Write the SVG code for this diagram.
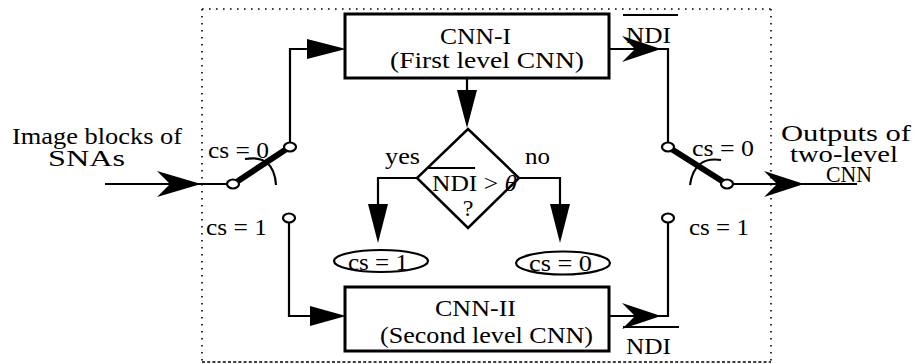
<svg xmlns="http://www.w3.org/2000/svg" width="916" height="364" viewBox="0 0 916 364">
  <style>
    text { font-family: "Liberation Serif", "Times New Roman", serif; font-size: 24px; fill: #000; }
    .ln { fill: none; stroke: #000; stroke-width: 2.2; }
    .box { fill: #fff; stroke: #000; stroke-width: 3; }
    .contact { fill: #fff; stroke: #000; stroke-width: 2.2; }
    .bar { stroke: #000; stroke-width: 6; stroke-linecap: round; }
    .head { fill: #000; stroke: none; }
    .dot { fill: none; stroke: #000; stroke-width: 1.6; stroke-dasharray: 1.6 5.4; }
    .dash { fill: none; stroke: #000; stroke-width: 1.6; stroke-dasharray: 3 2.2; }
    .over { stroke: #000; stroke-width: 2; }
  </style>

  <!-- dotted boundary of the two-level system -->
  <g id="boundary">
    <line class="dot" x1="202" y1="9" x2="771" y2="9"/>
    <line class="dot" x1="202" y1="9" x2="202" y2="362"/>
    <line class="dot" x1="771" y1="9" x2="771" y2="362"/>
    <line class="dash" x1="202" y1="362" x2="771" y2="362"/>
  </g>

  <!-- connectors -->
  <g id="connectors">
    <!-- input -->
    <line class="ln" x1="105" y1="184" x2="227" y2="184"/>
    <polygon class="head" points="201,184 157,171 170,184 157,197"/>
    <!-- to CNN-I -->
    <polyline class="ln" points="290,143 290,49 310,49"/>
    <polygon class="head" points="346,49 307,39 307,59"/>
    <!-- to CNN-II -->
    <polyline class="ln" points="289,222 289,316 310,316"/>
    <polygon class="head" points="346,316 310,306 310,326"/>
    <!-- CNN-I output -->
    <polyline class="ln" points="609,49 668,49 668,143"/>
    <polygon class="head" points="661,49 622,36 635,49 622,62"/>
    <!-- CNN-II output -->
    <polyline class="ln" points="609,316 668,316 668,222"/>
    <polygon class="head" points="661,316 622,303 635,316 622,329"/>
    <!-- CNN-I to decision -->
    <line class="ln" x1="467" y1="78" x2="467" y2="95"/>
    <polygon class="head" points="467,128 457,90 477,90"/>
    <!-- yes branch -->
    <polyline class="ln" points="417,178 378,178 378,208"/>
    <polygon class="head" points="378,243 368,204 388,204"/>
    <!-- no branch -->
    <polyline class="ln" points="519,178 560,178 560,208"/>
    <polygon class="head" points="560,243 550,204 570,204"/>
    <!-- output -->
    <line class="ln" x1="733" y1="184" x2="857" y2="184"/>
    <polygon class="head" points="804,184 764,171 777,184 764,197"/>
  </g>

  <!-- input switch -->
  <g id="switch-in">
    <line class="bar" x1="238" y1="181" x2="285" y2="150"/>
    <path class="ln" d="M245,159 Q274,154 276,185"/>
    <ellipse class="contact" cx="233" cy="184" rx="6" ry="4.5"/>
    <ellipse class="contact" cx="290" cy="147" rx="6" ry="4.5"/>
    <ellipse class="contact" cx="289" cy="218" rx="6" ry="4.5"/>
    <text x="208" y="158" textLength="61" lengthAdjust="spacingAndGlyphs">cs = 0</text>
    <text x="206" y="235" textLength="61" lengthAdjust="spacingAndGlyphs">cs = 1</text>
  </g>

  <!-- output switch -->
  <g id="switch-out">
    <line class="bar" x1="673" y1="150" x2="722" y2="181"/>
    <path class="ln" d="M721,160 Q694,156 690,185"/>
    <ellipse class="contact" cx="668" cy="147" rx="6" ry="4.5"/>
    <ellipse class="contact" cx="727" cy="184" rx="6" ry="4.5"/>
    <ellipse class="contact" cx="668" cy="218" rx="6" ry="4.5"/>
    <text x="692" y="156" textLength="62" lengthAdjust="spacingAndGlyphs">cs = 0</text>
    <text x="689" y="235" textLength="60" lengthAdjust="spacingAndGlyphs">cs = 1</text>
  </g>

  <g id="input-label">
    <text x="12" y="144" textLength="170" lengthAdjust="spacingAndGlyphs">Image blocks of</text>
    <text x="48" y="166" textLength="77" lengthAdjust="spacingAndGlyphs">SNAs</text>
  </g>

  <g id="output-label">
    <text x="781" y="141" textLength="130" lengthAdjust="spacingAndGlyphs">Outputs of</text>
    <text x="790" y="162" textLength="108" lengthAdjust="spacingAndGlyphs">two-level</text>
    <text x="826" y="182" textLength="46" lengthAdjust="spacingAndGlyphs">CNN</text>
  </g>

  <g id="cnn-1">
    <rect class="box" x="345" y="14" width="264" height="64"/>
    <text x="440" y="44" textLength="71" lengthAdjust="spacingAndGlyphs">CNN-I</text>
    <text x="390" y="68" textLength="194" lengthAdjust="spacingAndGlyphs">(First level CNN)</text>
  </g>

  <g id="cnn-2">
    <rect class="box" x="345" y="287" width="264" height="64"/>
    <text x="435" y="316" textLength="81" lengthAdjust="spacingAndGlyphs">CNN-II</text>
    <text x="380" y="343" textLength="213" lengthAdjust="spacingAndGlyphs">(Second level CNN)</text>
  </g>

  <g id="decision">
    <polygon class="ln" points="468,129 519,178 468,228 417,178" style="stroke-width:2.5"/>
    <line class="over" x1="428" y1="168" x2="475" y2="168"/>
    <text x="432" y="191" textLength="85" lengthAdjust="spacingAndGlyphs">NDI &gt; <tspan font-style="italic">θ</tspan></text>
    <text x="468" y="216" text-anchor="middle">?</text>
    <text x="385" y="164" textLength="35" lengthAdjust="spacingAndGlyphs">yes</text>
    <text x="525" y="164" textLength="25" lengthAdjust="spacingAndGlyphs">no</text>
  </g>

  <g id="set-cs1">
    <ellipse class="ln" cx="381" cy="261" rx="47" ry="11"/>
    <text x="348" y="270" textLength="60" lengthAdjust="spacingAndGlyphs">cs = 1</text>
  </g>

  <g id="set-cs0">
    <ellipse class="ln" cx="563" cy="263" rx="47" ry="11.5"/>
    <text x="529" y="271" textLength="63" lengthAdjust="spacingAndGlyphs">cs = 0</text>
  </g>

  <g id="ndi-1">
    <line class="over" x1="623" y1="15" x2="678" y2="15"/>
    <text x="626" y="43" textLength="45" lengthAdjust="spacingAndGlyphs">NDI</text>
  </g>

  <g id="ndi-2">
    <line class="over" x1="623" y1="327" x2="679" y2="327"/>
    <text x="626" y="354" textLength="45" lengthAdjust="spacingAndGlyphs">NDI</text>
  </g>
</svg>
